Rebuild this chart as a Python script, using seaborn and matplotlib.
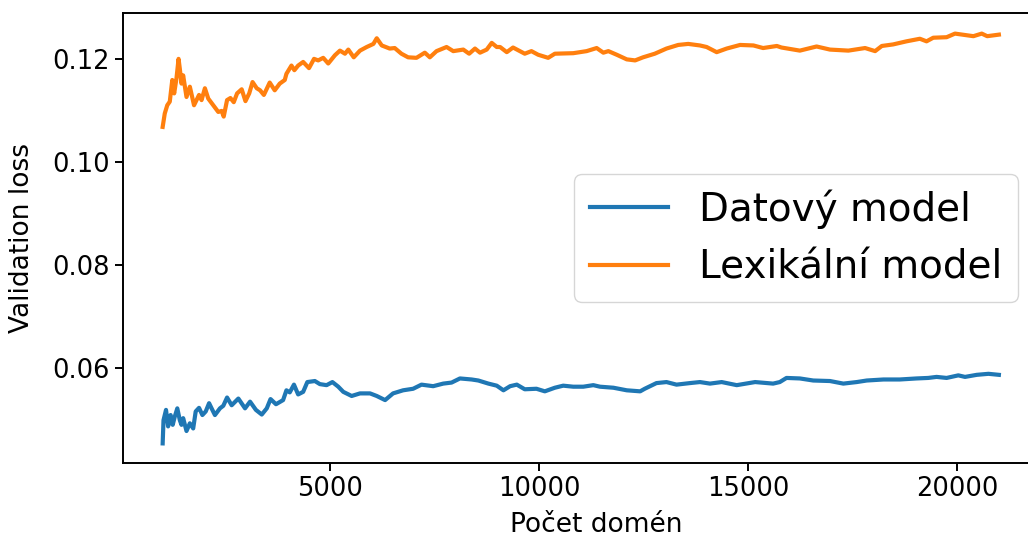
import pandas as pd
import seaborn as sns
import matplotlib
matplotlib.use("Agg")
import matplotlib.pyplot as plt

# values
lex_x = [1000, 1050, 1110, 1170, 1230, 1275, 1330, 1380, 1410, 1450, 1490, 1570, 1650, 1750,
         1870, 1930, 2010, 2090, 2210, 2330, 2410, 2460, 2540, 2620, 2700, 2780, 2890, 2980,
         3070, 3150, 3250, 3330, 3420, 3560, 3680, 3800, 3920, 3960, 4080, 4150, 4240, 4360,
         4500, 4620, 4720, 4840, 4960, 5120, 5240, 5360, 5440, 5570, 5720, 5880, 6040, 6120,
         6240, 6430, 6550, 6710, 6870, 7070, 7270, 7390, 7550, 7790, 7950, 8190, 8330, 8470,
         8590, 8750, 8870, 8990, 9070, 9230, 9380, 9660, 9820, 9980, 10220, 10380, 10820,
         11140, 11380, 11540, 11660, 11860, 12100, 12300, 12490, 12770, 13050, 13330, 13570,
         13850, 14010, 14250, 14490, 14810, 15130, 15360, 15690, 15800, 16240, 16640, 16960,
         17400, 17800, 18040, 18200, 18470, 18790, 19110, 19270, 19430, 19750, 19950, 20390,
         20590, 20720, 21000]
lex_loss = [0.1068, 0.1094, 0.1110, 0.1117, 0.1159, 0.1133, 0.1162, 0.1200, 0.1181, 0.1152,
            0.1168, 0.1126, 0.1146, 0.1110, 0.1130, 0.1120, 0.1143, 0.1123, 0.1110, 0.1097,
            0.1099, 0.1088, 0.1120, 0.1124, 0.1116, 0.1133, 0.1141, 0.1118, 0.1133, 0.1155,
            0.1143, 0.1139, 0.1130, 0.1154, 0.1139, 0.1152, 0.1159, 0.1171, 0.1187, 0.1178,
            0.1187, 0.1194, 0.1182, 0.1200, 0.1197, 0.1202, 0.1191, 0.1207, 0.1216, 0.1210,
            0.1218, 0.1203, 0.1216, 0.1223, 0.1229, 0.1240, 0.1226, 0.1220, 0.1221, 0.1210,
            0.1203, 0.1202, 0.1212, 0.1203, 0.1215, 0.1223, 0.1215, 0.1218, 0.1210, 0.1220,
            0.1212, 0.1218, 0.1231, 0.1223, 0.1223, 0.1213, 0.1222, 0.1210, 0.1215, 0.1208,
            0.1202, 0.1210, 0.1211, 0.1215, 0.1221, 0.1212, 0.1215, 0.1208, 0.1199, 0.1197,
            0.1203, 0.1210, 0.1220, 0.1227, 0.1229, 0.1226, 0.1223, 0.1213, 0.1220, 0.1227,
            0.1226, 0.1221, 0.1225, 0.1222, 0.1216, 0.1224, 0.1218, 0.1216, 0.1221, 0.1215,
            0.1225, 0.1228, 0.1234, 0.1239, 0.1234, 0.1241, 0.1242, 0.1249, 0.1244, 0.1249,
            0.1244, 0.1247]

dat_x = [1000, 1020, 1080, 1130, 1190, 1240, 1290, 1350, 1410, 1450, 1490, 1570, 1650, 1730,
         1790, 1870, 1950, 2030, 2110, 2170, 2250, 2370, 2450, 2540, 2650, 2810, 2970, 3090,
         3230, 3370, 3490, 3580, 3710, 3880, 3960, 4040, 4140, 4240, 4360, 4460, 4640, 4760,
         4920, 5060, 5200, 5320, 5520, 5720, 5960, 6120, 6320, 6510, 6750, 6990, 7190, 7470,
         7710, 7910, 8110, 8390, 8550, 8790, 8990, 9150, 9310, 9470, 9660, 9940, 10140, 10380,
         10580, 10820, 11060, 11300, 11460, 11780, 12100, 12420, 12530, 12810, 13050, 13290,
         13610, 13850, 14090, 14370, 14730, 15170, 15600, 15760, 15920, 16240, 16560, 16960,
         17280, 17600, 17840, 18240, 18630, 19030, 19310, 19510, 19750, 20030, 20190, 20470,
         20750, 21000]
dat_loss = [0.0454, 0.0499, 0.0519, 0.0487, 0.0509, 0.0490, 0.0506, 0.0522, 0.0499, 0.0490,
            0.0503, 0.0478, 0.0493, 0.0483, 0.0516, 0.0523, 0.0509, 0.0516, 0.0532, 0.0522,
            0.0509, 0.0522, 0.0527, 0.0543, 0.0528, 0.0541, 0.0522, 0.0535, 0.0519, 0.0510,
            0.0522, 0.0540, 0.0530, 0.0538, 0.0557, 0.0553, 0.0568, 0.0549, 0.0554, 0.0573,
            0.0575, 0.0569, 0.0567, 0.0573, 0.0564, 0.0554, 0.0546, 0.0551, 0.0551, 0.0546,
            0.0538, 0.0551, 0.0557, 0.0560, 0.0568, 0.0565, 0.0570, 0.0572, 0.0580, 0.0578,
            0.0576, 0.0570, 0.0566, 0.0557, 0.0565, 0.0568, 0.0559, 0.0560, 0.0555, 0.0562,
            0.0566, 0.0564, 0.0564, 0.0567, 0.0564, 0.0562, 0.0557, 0.0555, 0.0560, 0.0571,
            0.0573, 0.0568, 0.0571, 0.0573, 0.0570, 0.0573, 0.0567, 0.0573, 0.0570, 0.0573,
            0.0581, 0.0580, 0.0576, 0.0575, 0.0570, 0.0573, 0.0576, 0.0578, 0.0578, 0.0580,
            0.0581, 0.0583, 0.0581, 0.0586, 0.0583, 0.0587, 0.0589, 0.0587]

labels = ["Datový model", "Lexikální model"]

df = pd.concat([
    pd.DataFrame({"domeny": dat_x, "loss": dat_loss, "model": labels[0]}),
    pd.DataFrame({"domeny": lex_x, "loss": lex_loss, "model": labels[1]}),
])

fig = plt.figure(figsize=(10.28, 5.41), dpi=100)
# the right edge of the axes runs off the canvas, as in the reference
ax = fig.add_axes([0.1196, 0.1442, 0.92, 0.8318])

sns.lineplot(data=df, x="domeny", y="loss", hue="model", hue_order=labels,
             palette=["#1f77b4", "#ff7f0e"], estimator=None, linewidth=3.0, ax=ax)

ax.set_xlim(50, 22670)
ax.set_ylim(0.0416, 0.1289)
ax.set_xticks([5000, 10000, 15000, 20000])
ax.set_yticks([0.06, 0.08, 0.10, 0.12])
ax.set_yticklabels(["0.06", "0.08", "0.10", "0.12"])
ax.tick_params(labelsize=18.5, length=6, width=1.4)
for s in ax.spines.values():
    s.set_linewidth(1.4)
ax.set_xlabel("Počet domén", fontsize=19, labelpad=7)
ax.set_ylabel("Validation loss", fontsize=19, labelpad=12)

sns.move_legend(ax, "center right", title=None, fontsize=28,
                borderaxespad=0, bbox_to_anchor=(0.946, 0.5))

fig.savefig("out.png", dpi=100)
